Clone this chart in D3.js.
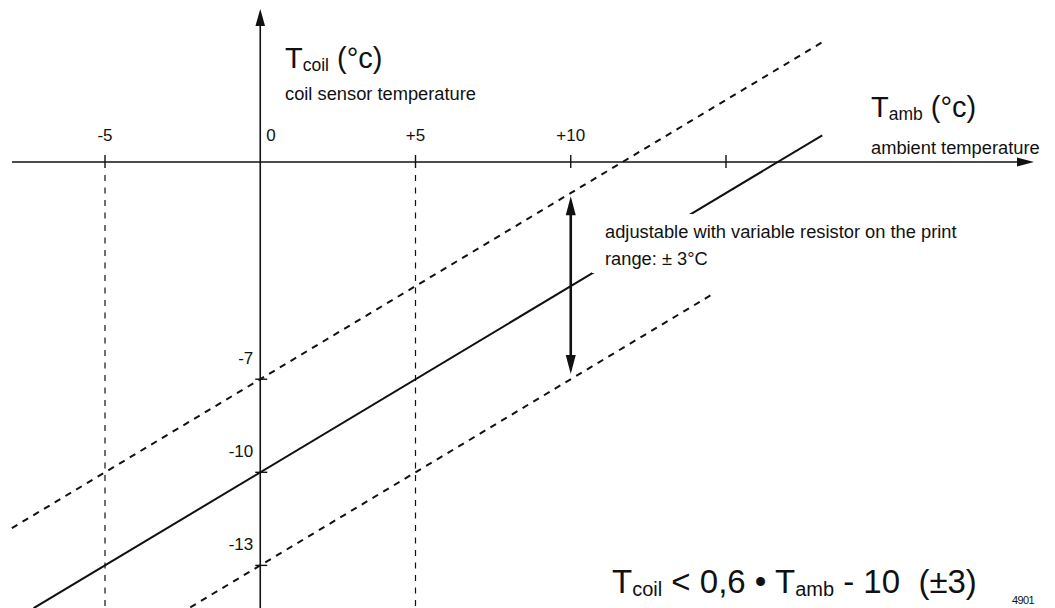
<!DOCTYPE html>
<html>
<head>
<meta charset="utf-8">
<script src="https://cdn.jsdelivr.net/npm/d3@7/dist/d3.min.js"></script>
<style>
  html, body { margin: 0; padding: 0; background: #fff; }
  svg { display: block; font-family: "Liberation Sans", Arial, sans-serif; }
  text { fill: #111; white-space: pre; }
</style>
</head>
<body>
<svg id="chart" width="1055" height="608"></svg>
<script>
// Ambient temperature ticks (x) and coil temperature ticks (y)
const X_TICKS = [-5, 0, 5, 10, 15];
const X_TICK_LABELS = ["-5", "0", "+5", "+10", ""];
const Y_TICKS = [-7, -10, -13];
const Y_TICK_LABELS = ["-7", "-10", "-13"];
const GUIDE_X = [-5, 5];

// Characteristic lines: [T_amb, T_coil] end points
// nominal: T_coil = 0,6 * T_amb - 10, band: +/- 3
const NOMINAL = [[-7.3, -14.38], [18.1, 0.86]];
const UPPER = [[-8.0, -11.8], [18.1, 3.86]];
const LOWER = [[-2.6, -14.56], [14.6, -4.24]];

// Adjustment range arrow at T_amb = 10
const RANGE_AMB = 10;
const RANGE_COIL = [-1.1, -6.83];

const svg = d3.select("#chart");

const x = d3.scaleLinear().domain([-5, 15]).range([105, 726]);
const y = d3.scaleLinear().domain([0, -10]).range([162, 472.3]);

const ink = "#111";
const line = d3.line().x(d => x(d[0])).y(d => y(d[1]));

// vertical dashed guides
svg.selectAll("line.guide").data(GUIDE_X).join("line")
  .attr("class", "guide")
  .attr("x1", d => x(d)).attr("x2", d => x(d))
  .attr("y1", y(0) + 13).attr("y2", 608)
  .attr("stroke", ink).attr("stroke-width", 1.2)
  .attr("stroke-dasharray", "6,6.5");

// tolerance band lines
svg.selectAll("path.band").data([UPPER, LOWER]).join("path")
  .attr("class", "band")
  .attr("d", line)
  .attr("fill", "none").attr("stroke", ink)
  .attr("stroke-width", 2).attr("stroke-dasharray", "6.5,6");

// nominal line
svg.append("path").attr("d", line(NOMINAL))
  .attr("fill", "none").attr("stroke", ink).attr("stroke-width", 2);

// axes
const x0 = x(0), y0 = y(0);
svg.append("line").attr("x1", 12).attr("x2", 1020).attr("y1", y0).attr("y2", y0)
  .attr("stroke", ink).attr("stroke-width", 1.6);
svg.append("path").attr("d", `M1034,${y0} L1017,${y0 - 4.5} L1017,${y0 + 4.5} Z`).attr("fill", ink);
svg.append("line").attr("x1", x0).attr("x2", x0).attr("y1", 608).attr("y2", 24)
  .attr("stroke", ink).attr("stroke-width", 1.6);
svg.append("path").attr("d", `M${x0},9 L${x0 - 4.8},26 L${x0 + 4.8},26 Z`).attr("fill", ink);

// x ticks
svg.selectAll("line.xtick").data(X_TICKS.filter(d => d !== 0)).join("line")
  .attr("class", "xtick")
  .attr("x1", d => x(d)).attr("x2", d => x(d))
  .attr("y1", y0 - 7).attr("y2", y0 + 6)
  .attr("stroke", ink).attr("stroke-width", 1.4);
svg.selectAll("text.xlab").data(X_TICKS).join("text")
  .attr("class", "xlab")
  .attr("x", d => d === 0 ? x(d) + 6 : x(d))
  .attr("y", y0 - 21)
  .attr("text-anchor", d => d === 0 ? "start" : "middle")
  .attr("font-size", 17)
  .text((d, i) => X_TICK_LABELS[i]);

// y ticks
svg.selectAll("line.ytick").data(Y_TICKS).join("line")
  .attr("class", "ytick")
  .attr("x1", x0 - 5).attr("x2", x0 + 7)
  .attr("y1", d => y(d)).attr("y2", d => y(d))
  .attr("stroke", ink).attr("stroke-width", 1.4);
svg.selectAll("text.ylab").data(Y_TICKS).join("text")
  .attr("class", "ylab")
  .attr("x", x0 - 7)
  .attr("y", d => y(d) - 15)
  .attr("text-anchor", "end")
  .attr("font-size", 17)
  .text((d, i) => Y_TICK_LABELS[i]);

// double-headed adjustment arrow
const ax = x(RANGE_AMB), aTop = y(RANGE_COIL[0]), aBot = y(RANGE_COIL[1]);
svg.append("line").attr("x1", ax).attr("x2", ax).attr("y1", aTop + 15).attr("y2", aBot - 15)
  .attr("stroke", ink).attr("stroke-width", 2.6);
svg.append("path").attr("d", `M${ax},${aTop} L${ax - 5},${aTop + 19} L${ax + 5},${aTop + 19} Z`).attr("fill", ink);
svg.append("path").attr("d", `M${ax},${aBot} L${ax - 5},${aBot - 19} L${ax + 5},${aBot - 19} Z`).attr("fill", ink);

// annotation with white backing
svg.append("rect").attr("x", 592).attr("y", 214).attr("width", 383).attr("height", 59).attr("fill", "#fff");
svg.append("text").attr("x", 605).attr("y", 238).attr("font-size", 18.3)
  .text("adjustable with variable resistor on the print");
svg.append("text").attr("x", 605).attr("y", 265).attr("font-size", 18.3)
  .text("range: \u00b1 3\u00b0C");

// axis titles
function subLabel(xp, yp, sub, big, small) {
  const t = svg.append("text").attr("x", xp).attr("y", yp).attr("font-size", big);
  t.append("tspan").text("T");
  t.append("tspan").attr("font-size", small).attr("dy", 3).text(sub);
  t.append("tspan").attr("dy", -3).text(" (\u00b0c)");
  return t;
}
subLabel(285, 68, "coil", 29, 17.5);
svg.append("text").attr("x", 285).attr("y", 100).attr("font-size", 18.3).text("coil sensor temperature");
subLabel(871, 117, "amb", 29, 17.5);
svg.append("text").attr("x", 871).attr("y", 154).attr("font-size", 18.3).text("ambient temperature");

// formula
const f = svg.append("text").attr("x", 612).attr("y", 593).attr("font-size", 33);
f.append("tspan").text("T");
f.append("tspan").attr("font-size", 20).attr("dy", 3).text("coil");
f.append("tspan").attr("dy", -3).text(" < 0,6 \u2022 T");
f.append("tspan").attr("font-size", 20).attr("dy", 3).text("amb");
f.append("tspan").attr("dy", -3).text(" - 10  (\u00b13)");

svg.append("text").attr("x", 1012).attr("y", 604).attr("font-size", 11)
  .attr("letter-spacing", -0.6).text("4901");
</script>
</body>
</html>
